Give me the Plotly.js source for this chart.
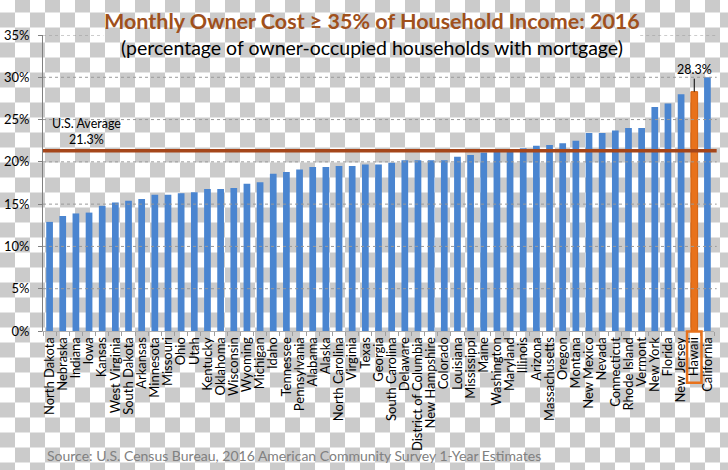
<!DOCTYPE html>
<html>
<head>
<meta charset="utf-8">
<script src="https://cdn.plot.ly/plotly-3.0.1.min.js"></script>
<style>
  html, body { margin: 0; padding: 0; }
  body {
    width: 728px; height: 470px;
    background-color: #ffffff;
    background-image: repeating-conic-gradient(#cbcbcb 0 25%, #ffffff 0 50%);
    background-size: 30px 30px;
    background-position: 15px 12.5px;
  }
  #chart { width: 728px; height: 470px; }
</style>
</head>
<body>
<div id="chart"></div>
<script>
// Estados ordenados de menor a mayor
const states = ['North Dakota', 'Nebraska', 'Indiana', 'Iowa', 'Kansas', 'West Virginia', 'South Dakota',
    'Arkansas', 'Minnesota', 'Missouri', 'Ohio', 'Utah', 'Kentucky', 'Oklahoma', 'Wisconsin', 'Wyoming',
    'Michigan', 'Idaho', 'Tennessee', 'Pennsylvania', 'Alabama', 'Alaska', 'North Carolina', 'Virginia',
    'Texas', 'Georgia', 'South Carolina', 'Delaware', 'District of Columbia', 'New Hampshire', 'Colorado',
    'Louisiana', 'Mississippi', 'Maine', 'Washington', 'Maryland', 'Illinois', 'Arizona', 'Massachusetts',
    'Oregon', 'Montana', 'New Mexico', 'Nevada', 'Connecticut', 'Rhode Island', 'Vermont', 'New York',
    'Florida', 'New Jersey', 'Hawaii', 'California'];

const pct = [12.9, 13.6, 13.9, 14.0, 14.8, 15.2, 15.4,
    15.6, 16.1, 16.1, 16.3, 16.4, 16.8, 16.8, 16.9, 17.4,
    17.6, 18.6, 18.8, 19.1, 19.4, 19.4, 19.5, 19.5,
    19.7, 19.7, 19.9, 20.2, 20.2, 20.2, 20.2,
    20.6, 20.8, 21.1, 21.2, 21.2, 21.6, 21.9, 22.0,
    22.2, 22.5, 23.4, 23.4, 23.7, 24.0, 24.0, 26.5,
    26.9, 28.0, 28.3, 30.0];

const usAverage = 21.3;
const highlight = 'Hawaii';
const yTicks = [0, 5, 10, 15, 20, 25, 30, 35];

const blue = '#4a85d0';
const orange = '#e8721c';
const brown = '#a5461a';
const font = 'Lato, "Liberation Sans", sans-serif';

const hi = states.indexOf(highlight);

const barTrace = {
    x: states,
    y: pct,
    type: 'bar',
    marker: {
        color: states.map(s => s === highlight ? orange : blue),
        line: { color: states.map(s => s === highlight ? '#d4600e' : blue), width: states.map(s => s === highlight ? 1 : 0) }
    },
    hoverinfo: 'x+y'
};

// Líneas de la cuadrícula punteadas
const shapes = [];
yTicks.filter(v => v > 0).forEach(v => {
    if (v === 35) {
        shapes.push({ type: 'line', xref: 'paper', yref: 'y', x0: 0, x1: 0.09, y0: v, y1: v,
            line: { color: '#9a9a9a', width: 1, dash: 'dot' } });
        shapes.push({ type: 'line', xref: 'paper', yref: 'y', x0: 0.89, x1: 1.004, y0: v, y1: v,
            line: { color: '#9a9a9a', width: 1, dash: 'dot' } });
    } else {
        shapes.push({ type: 'line', xref: 'paper', yref: 'y', x0: 0, x1: 1.004, y0: v, y1: v,
            line: { color: '#9a9a9a', width: 1, dash: 'dot' } });
    }
});

// Promedio nacional
shapes.push({ type: 'line', xref: 'paper', yref: 'y', x0: 0, x1: 1.004, y0: usAverage, y1: usAverage,
    line: { color: brown, width: 3.5 } });

// Recuadro alrededor de la etiqueta de Hawaii
shapes.push({ type: 'rect', xref: 'x', yref: 'paper', x0: hi - 0.55, x1: hi + 0.55, y0: -0.002, y1: -0.175,
    line: { color: orange, width: 2.5 } });

const layout = {
    width: 728,
    height: 470,
    margin: { l: 43, r: 14, t: 35, b: 139 },
    paper_bgcolor: 'rgba(0,0,0,0)',
    plot_bgcolor: 'rgba(0,0,0,0)',
    font: { family: font, size: 12, color: '#000' },
    showlegend: false,
    bargap: 0.49,
    xaxis: {
        type: 'category',
        tickmode: 'array',
        tickvals: states,
        ticktext: states,
        tickangle: -90,
        tickfont: { size: 13, color: '#000' },
        ticks: 'outside',
        tickson: 'boundaries',
        ticklen: 4,
        tickcolor: '#a0a0a0',
        showline: true,
        linecolor: '#b0b0b0',
        showgrid: false,
        automargin: false,
        range: [-0.5, states.length - 0.5]
    },
    yaxis: {
        range: [0, 35],
        tickmode: 'array',
        tickvals: yTicks,
        ticktext: yTicks.map(v => v + '%'),
        tickfont: { size: 13, color: '#000' },
        ticks: 'outside',
        ticklen: 4,
        tickcolor: '#808080',
        ticklabelstandoff: 6,
        showline: true,
        linecolor: '#808080',
        showgrid: false,
        zeroline: false,
        automargin: false
    },
    shapes: shapes,
    annotations: [
        {
            text: '<b>Monthly Owner Cost ≥ 35% of Household Income: 2016</b>',
            xref: 'paper', yref: 'paper', x: 0.491, y: 1, yshift: 14,
            xanchor: 'center', yanchor: 'middle', showarrow: false,
            font: { family: font, size: 21.5, color: '#a0501c' }
        },
        {
            text: '(percentage of owner-occupied households with mortgage)',
            xref: 'paper', yref: 'paper', x: 0.491, y: 1, yshift: -12,
            xanchor: 'center', yanchor: 'middle', showarrow: false,
            font: { family: font, size: 19.5, color: '#000' }
        },
        {
            text: 'U.S. Average<br>21.3%',
            xref: 'paper', yref: 'y', x: 0.065, y: usAverage, yshift: 2,
            xanchor: 'center', yanchor: 'bottom', showarrow: false,
            font: { family: font, size: 12.5, color: '#000' }
        },
        {
            text: '28.3%',
            xref: 'x', yref: 'y', x: highlight, y: pct[hi],
            showarrow: true, arrowhead: 0, arrowwidth: 1, arrowcolor: '#000',
            ax: 0, ay: -22, standoff: 0,
            font: { family: font, size: 12.5, color: '#000' }
        },
        {
            text: 'Source: U.S. Census Bureau, 2016 American Community Survey 1-Year Estimates',
            xref: 'paper', yref: 'paper', x: 0.003, y: 0, yshift: -124,
            xanchor: 'left', yanchor: 'middle', showarrow: false,
            font: { family: font, size: 14, color: '#808080' }
        }
    ]
};

Plotly.newPlot('chart', [barTrace], layout, { displayModeBar: false, staticPlot: true });
</script>
</body>
</html>
